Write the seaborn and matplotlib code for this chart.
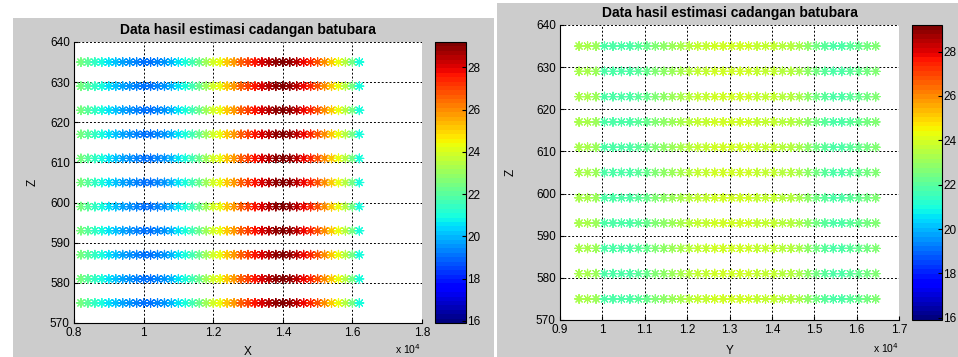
import numpy as np
import pandas as pd
import matplotlib
matplotlib.use('Agg')
import matplotlib.pyplot as plt
import seaborn as sns
from matplotlib.patches import Rectangle
from matplotlib.colors import Normalize
from matplotlib.cm import ScalarMappable
from matplotlib.ticker import FuncFormatter

plt.rcParams['font.family'] = ['Liberation Sans', 'DejaVu Sans']

# Data
judul = 'Data hasil estimasi cadangan batubara'
z_level = [575, 581, 587, 593, 599, 605, 611, 617, 623, 629, 635]

# panel kiri: posisi X dan nilai estimasi sepanjang X
x_pos = list(range(8200, 16201, 200))
nilai_x = [22.5, 22.0, 21.5, 21.0, 20.6, 20.2, 19.8, 19.5, 19.3, 19.2,
           19.2, 19.3, 19.6, 20.0, 20.5, 21.0, 21.6, 22.3, 23.0, 23.8,
           24.4, 25.1, 25.8, 26.5, 27.1, 27.6, 28.1, 28.5, 28.8, 29.0,
           28.8, 28.4, 27.9, 27.4, 26.8, 26.0, 25.2, 24.3, 23.5, 22.5, 21.0]

# panel kanan: posisi Y dan nilai estimasi sepanjang Y
y_pos = list(range(9450, 16451, 200))
nilai_y = [23.3, 23.2, 23.0, 21.9, 21.8, 21.8, 21.9, 22.1, 22.3, 22.6,
           22.9, 23.1, 23.3, 23.5, 23.6, 23.7, 23.8, 23.8, 23.8, 23.8,
           23.8, 23.7, 23.7, 23.6, 23.5, 23.4, 23.2, 22.8, 22.4, 22.1,
           21.9, 21.9, 22.0, 22.2, 22.4, 22.6]

cbar_ticks = [16, 18, 20, 22, 24, 26, 28]
clim = (15.9, 29.2)

kiri = pd.DataFrame({
    'X': np.tile(x_pos, len(z_level)),
    'Z': np.repeat(z_level, len(x_pos)),
    'nilai': np.tile(nilai_x, len(z_level)),
})
kanan = pd.DataFrame({
    'Y': np.tile(y_pos, len(z_level)),
    'Z': np.repeat(z_level, len(y_pos)),
    'nilai': np.tile(nilai_y, len(z_level)),
})

W, H = 958, 357
cmap = plt.get_cmap('jet', 64)
norm = Normalize(*clim)

fig = plt.figure(figsize=(W / 100, H / 100), dpi=100)
fig.patch.set_facecolor('white')


def px(x0, y0, x1, y1):
    # kotak piksel (dari atas) -> koordinat figure
    return [x0 / W, 1 - y1 / H, (x1 - x0) / W, (y1 - y0) / H]


# latar abu-abu ala MATLAB
for r in [px(13, 18, 494, H), px(497, 3, W, H)]:
    fig.patches.append(Rectangle((r[0], r[1]), r[2], r[3], transform=fig.transFigure,
                                 facecolor='#cccccc', edgecolor='none', zorder=-10))

panel = [
    (kiri, 'X', px(74, 42, 422, 323), px(435, 42, 466, 323), (8000, 18000), 2000, -0.103, -0.081, (408, 349)),
    (kanan, 'Y', px(560, 25, 899, 320), px(912, 25, 942, 320), (9000, 17000), 1000, -0.127, -0.085, (886, 348)),
]

for df, xcol, pos, cpos, xlim, step, zx, xy, off in panel:
    ax = fig.add_axes(pos)
    ax.set_facecolor('white')
    sns.scatterplot(data=df, x=xcol, y='Z', hue='nilai', palette=cmap, hue_norm=norm,
                    marker=(8, 2, 0), s=40, linewidth=0.85, legend=False, ax=ax)
    ax.set_xlim(*xlim)
    ax.set_ylim(570, 640)
    ax.set_xticks(np.arange(xlim[0], xlim[1] + 1, step))
    ax.set_yticks(np.arange(570, 641, 10))
    ax.xaxis.set_major_formatter(FuncFormatter(lambda v, p: '{:g}'.format(v / 1e4)))
    ax.grid(True, color='black', linestyle=(0, (2, 2)), linewidth=0.7)
    ax.set_axisbelow(True)
    for s in ['top', 'right']:
        ax.spines[s].set_visible(False)
    for s in ['left', 'bottom']:
        ax.spines[s].set_linewidth(0.8)
    ax.tick_params(direction='in', length=3, labelsize=8.5, pad=3)
    ax.set_title(judul, fontsize=10, fontweight='bold', pad=6)
    ax.set_xlabel(xcol, fontsize=8.5)
    ax.set_ylabel('Z', fontsize=8.5)
    ax.yaxis.set_label_coords(zx, 0.5)
    ax.xaxis.set_label_coords(0.5, xy)
    fig.text(off[0] / W, 1 - off[1] / H, 'x 10$^4$', fontsize=7.5, ha='center', va='center')

    # colorbar
    cax = fig.add_axes(cpos)
    cb = fig.colorbar(ScalarMappable(norm=norm, cmap=cmap), cax=cax)
    cb.set_ticks(cbar_ticks)
    cb.outline.set_linewidth(0.8)
    cax.tick_params(direction='in', length=3, labelsize=8.5, pad=1)

plt.savefig('out.png', dpi=100)
